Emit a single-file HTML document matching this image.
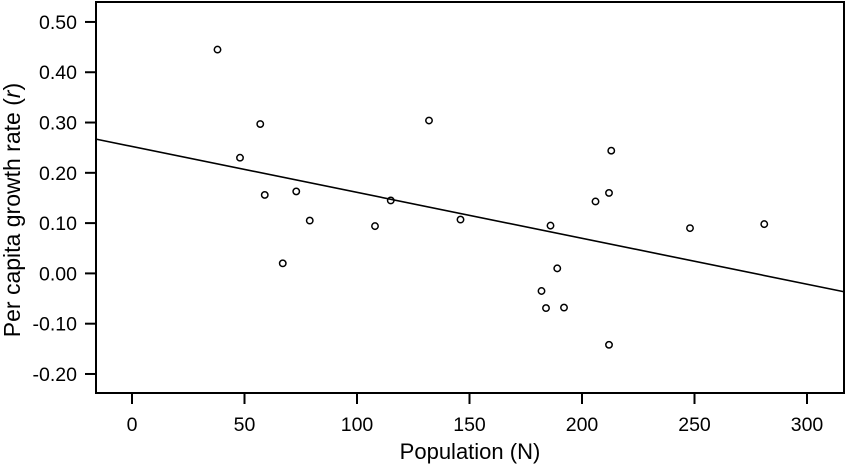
<!DOCTYPE html>
<html><head><meta charset="utf-8"><style>
body{margin:0;background:#fff;}
svg{display:block;font-family:"Liberation Sans",Arial,sans-serif;}
</style></head><body>
<svg id="chart" width="847" height="465">
<g id="plot"></g>
</svg>
<script>
const popX=[38,48,57,59,67,73,79,108,115,132,146,182,184,186,189,192,206,212,213,212,248,281];
const growthY=[0.445,0.23,0.297,0.156,0.02,0.163,0.105,0.094,0.145,0.304,0.107,-0.035,-0.069,0.095,0.01,-0.068,0.143,0.16,0.244,-0.142,0.09,0.098];
const xTicks=[0,50,100,150,200,250,300];
const yTicks=[0.5,0.4,0.3,0.2,0.1,0,-0.1,-0.2];
const fitIntercept=0.2524;
const fitSlope=-0.000913;
const L=96,R=844,T=2,B=393;
const sx=v=>132+v*2.25;
const sy=v=>273.4-v*502.9;
const ns="http://www.w3.org/2000/svg";
const g=document.getElementById('plot');
function mk(t,a){const e=document.createElementNS(ns,t);for(const k in a)e.setAttribute(k,a[k]);g.appendChild(e);return e;}
const frame=mk('rect',{x:L,y:T,width:R-L,height:B-T,fill:'none',stroke:'#000','stroke-width':2});


xTicks.forEach(v=>{
 const t=mk('line',{x1:sx(v),x2:sx(v),y1:B,y2:B+11,stroke:'#000','stroke-width':2});
 
 
 const l=mk('text',{x:sx(v),y:431,'text-anchor':'middle','font-size':19.5});
 l.textContent=v;
 
 
});
yTicks.forEach(v=>{
 const t=mk('line',{x1:L-11,x2:L,y1:sy(v),y2:sy(v),stroke:'#000','stroke-width':2});
 
 
 const l=mk('text',{x:77,y:sy(v)+7,'text-anchor':'end','font-size':19.5});
 l.textContent=v.toFixed(2);
 
 
});
const x0=(L-132)/2.25,x1=(R-132)/2.25;
const fl=mk('line',{x1:L,x2:R,y1:sy(fitIntercept+fitSlope*x0),y2:sy(fitIntercept+fitSlope*x1),stroke:'#000','stroke-width':1.6});


popX.forEach((x,i)=>{
 const c=mk('circle',{cx:sx(x),cy:sy(growthY[i]),r:3.2,fill:'none',stroke:'#000','stroke-width':1.5});
 
 
});
const xt=mk('text',{x:470,y:459,'text-anchor':'middle','font-size':22});
xt.textContent='Population (N)';


const yt=mk('text',{x:0,y:0,'text-anchor':'middle','font-size':23,transform:'translate(20,210) rotate(-90)'});
yt.innerHTML='Per capita growth rate (<tspan font-style="italic">r</tspan>)';


</script>
</body></html>
